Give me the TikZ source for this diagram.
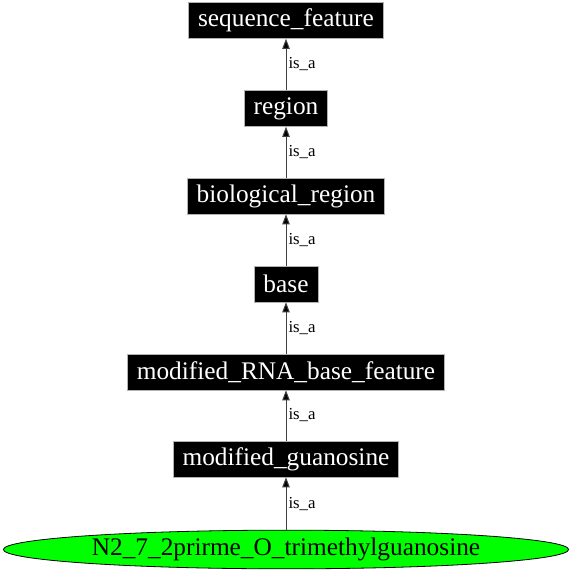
\documentclass[tikz,border=0pt]{standalone}
\usepackage{fontspec}
\setmainfont{Liberation Serif}
\usetikzlibrary{arrows.meta,shapes.geometric}

\begin{document}
\begin{tikzpicture}[x=0.75pt,y=-0.75pt,
    term_node/.style={rectangle,fill=black,draw=gray!60,line width=0.4pt,text=white,minimum height=27pt,inner xsep=7pt,font=\fontsize{19}{22}\selectfont},
    leaf_node/.style={ellipse,fill=green,draw=black,line width=0.6pt,minimum width=424pt,minimum height=29pt,inner sep=0pt,font=\fontsize{19}{22}\selectfont},
    isa/.style={-{Triangle[length=7.5pt,width=5.5pt]},draw=black!75,line width=0.75pt},
    lbl/.style={right,inner sep=1.5pt,font=\fontsize{12.6}{14}\selectfont}]

    \useasboundingbox (0,0) rectangle (572,576);

    \node[term_node] (sf) at (286,20.5) {sequence\_feature};
    \node[term_node] (rg) at (286,108.5) {region};
    \node[term_node] (br) at (286,196) {biological\_region};
    \node[term_node] (bs) at (286,284) {base};
    \node[term_node] (mrbf) at (286,372) {modified\_RNA\_base\_feature};
    \node[term_node] (mg) at (286,459) {modified\_guanosine};
    \node[leaf_node] (n2) at (286,549.5) {N2\_7\_2prirme\_O\_trimethylguanosine};

    \path[isa]
    (rg) edge node[lbl] {is\_a} (sf)
    (br) edge node[lbl] {is\_a} (rg)
    (bs) edge node[lbl] {is\_a} (br)
    (mrbf) edge node[lbl] {is\_a} (bs)
    (mg) edge node[lbl] {is\_a} (mrbf)
    (n2) edge node[lbl] {is\_a} (mg);
\end{tikzpicture}
\end{document}
